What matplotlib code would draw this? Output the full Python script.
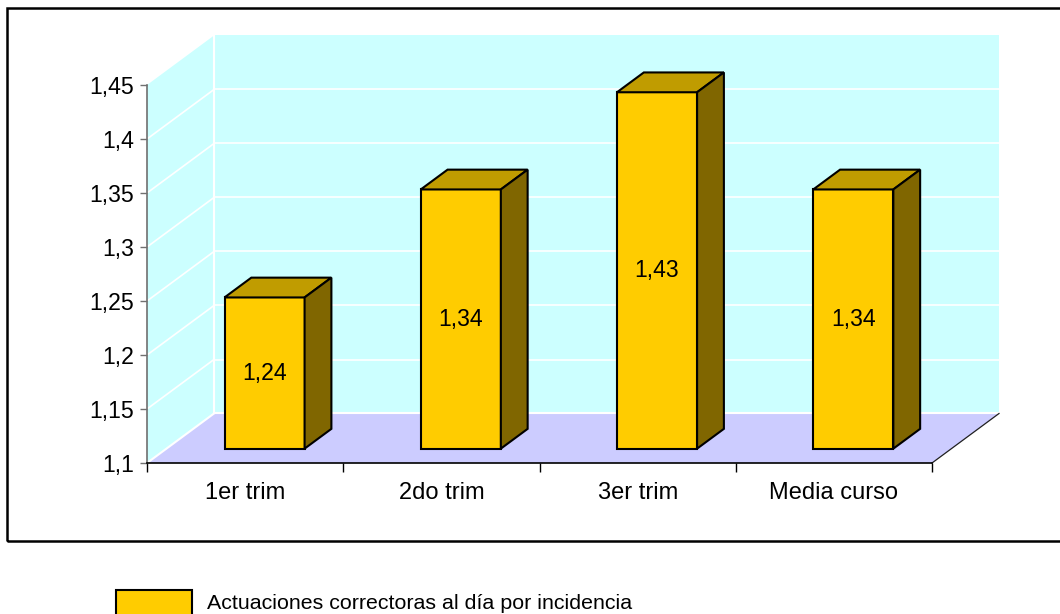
import matplotlib
matplotlib.use("Agg")
import matplotlib.pyplot as plt
from matplotlib.patches import Polygon, Rectangle
from matplotlib.ticker import FuncFormatter
import numpy as np

plt.rcParams['font.family'] = ['Liberation Sans', 'DejaVu Sans']

# ---- data ----
categories = ["1er trim", "2do trim", "3er trim", "Media curso"]
values = [1.24, 1.34, 1.43, 1.34]
series_name = "Actuaciones correctoras al día por incidencia"
y_ticks = [1.1, 1.15, 1.2, 1.25, 1.3, 1.35, 1.4, 1.45]
y_min, y_max = 1.1, 1.45

# ---- style ----
WALL = "#CCFFFF"
FLOOR = "#CCCCFF"
FRONT = "#FFCC00"
TOP = "#C09C00"
SIDE = "#806600"

W, H = 1060, 614
fig = plt.figure(figsize=(W / 100, H / 100), dpi=100)
ax = fig.add_axes([147 / W, (H - 463) / H, (932 - 147) / W, (463 - 85) / H])
ax.set_xlim(0, len(categories))
ax.set_ylim(y_min, y_max)
ax.patch.set_visible(False)

# depth of the 3D box in data units
px_x = (932 - 147) / len(categories)
px_y = (463 - 85) / (y_max - y_min)
DX = 67 / px_x
DY = 49.5 / px_y
F0 = 0.29   # depth fraction of bar front face
BD = 0.40   # bar depth fraction
BW = 0.408  # bar width
n = len(categories)

# walls & floor
ax.add_patch(Polygon([(DX, y_min + DY), (n + DX, y_min + DY), (n + DX, y_max + DY), (DX, y_max + DY)],
                     closed=True, facecolor=WALL, edgecolor='none', clip_on=False, zorder=0))
ax.add_patch(Polygon([(0, y_min), (DX, y_min + DY), (DX, y_max + DY), (0, y_max)],
                     closed=True, facecolor=WALL, edgecolor='none', clip_on=False, zorder=0))
ax.add_patch(Polygon([(0, y_min), (n, y_min), (n + DX, y_min + DY), (DX, y_min + DY)],
                     closed=True, facecolor=FLOOR, edgecolor='none', clip_on=False, zorder=0))

# gridlines
for v in y_ticks[1:-1]:
    ax.plot([DX, n + DX], [v + DY, v + DY], color='white', lw=1.2, clip_on=False, zorder=1)
    ax.plot([0, DX], [v, v + DY], color='white', lw=1.2, clip_on=False, zorder=1)
ax.plot([DX, n + DX], [y_min + DY, y_min + DY], color='white', lw=1.5, clip_on=False, zorder=1)
ax.plot([0, DX], [y_min, y_min + DY], color='white', lw=1.5, clip_on=False, zorder=1)
ax.plot([DX, DX], [y_min + DY, y_max + DY], color='white', lw=1.5, clip_on=False, zorder=1)
ax.plot([n, n + DX], [y_min, y_min + DY], color='#202020', lw=0.9, clip_on=False, zorder=1)

# bars
xc = np.arange(n) + 0.5
vals = np.array(values)
ax.bar(xc + F0 * DX, vals - y_min, bottom=y_min + F0 * DY, width=BW,
       color=FRONT, edgecolor='black', linewidth=1.5, zorder=3)
for x, v in zip(xc, vals):
    x0 = x - BW / 2 + F0 * DX
    x1 = x0 + BW
    y0 = y_min + F0 * DY
    y1 = v + F0 * DY
    ddx, ddy = BD * DX, BD * DY
    ax.add_patch(Polygon([(x0, y1), (x1, y1), (x1 + ddx, y1 + ddy), (x0 + ddx, y1 + ddy)],
                         closed=True, facecolor=TOP, edgecolor='black', lw=1.5, zorder=3, clip_on=False))
    ax.add_patch(Polygon([(x1, y0), (x1 + ddx, y0 + ddy), (x1 + ddx, y1 + ddy), (x1, y1)],
                         closed=True, facecolor=SIDE, edgecolor='black', lw=1.5, zorder=3, clip_on=False))
    ax.text(x + F0 * DX, (y0 + y1) / 2, f"{v:g}".replace('.', ','), ha='center', va='center',
            fontsize=16.6, zorder=4)

# axes
for s in ['top', 'right']:
    ax.spines[s].set_visible(False)
ax.spines['left'].set_color('#707070')
ax.spines['left'].set_linewidth(1.2)
ax.spines['bottom'].set_color('black')
ax.spines['bottom'].set_linewidth(1.2)
ax.spines['left'].set_zorder(5)
ax.spines['bottom'].set_zorder(5)

ax.set_yticks(y_ticks)
ax.yaxis.set_major_formatter(FuncFormatter(lambda v, p: f"{v:g}".replace('.', ',')))
ax.tick_params(axis='y', length=5, width=1, color='#707070', pad=4.5, labelsize=16.6)
ax.set_xticks(np.arange(n + 1), labels=[''] * (n + 1))
ax.tick_params(axis='x', which='major', length=6.5, width=1, color='black')
ax.set_xticks(xc, labels=categories, minor=True)
ax.tick_params(axis='x', which='minor', length=0, pad=14, labelsize=17)

# outer border
fig.add_artist(Rectangle((7 / W, (H - 541) / H), (1065 - 7) / W, (541 - 8) / H,
                         transform=fig.transFigure, fill=False, edgecolor='black', lw=1.8))

# legend
fig.add_artist(Rectangle((116 / W, (H - 620) / H), (192 - 116) / W, (620 - 590) / H,
                         transform=fig.transFigure, facecolor=FRONT, edgecolor='black', lw=1.5))
fig.text(207 / W, (H - 609) / H, series_name, ha='left', va='baseline', fontsize=15.4)

fig.savefig("out.png", dpi=100)
